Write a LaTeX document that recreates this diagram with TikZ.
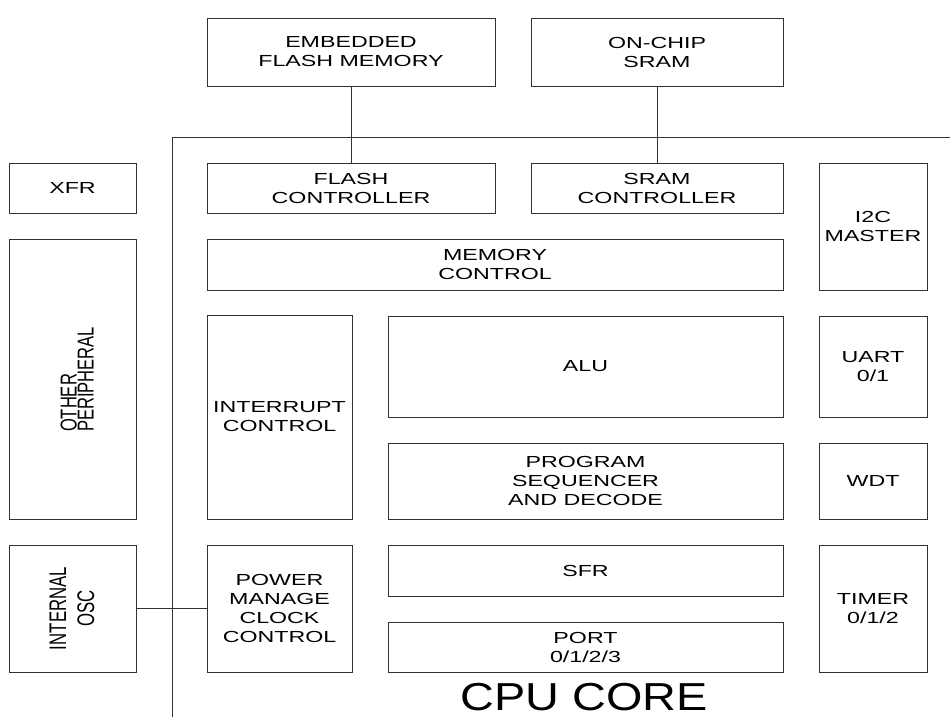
\documentclass[tikz,border=0pt]{standalone}
\usepackage{fontspec}
\setmainfont{Liberation Sans}[FakeStretch=1.45]
\newfontfamily\rotf{Liberation Sans}[FakeStretch=0.72]
\newfontfamily\rotg{Liberation Sans}[FakeStretch=0.70]
\newfontfamily\bigf{Liberation Sans}[FakeStretch=1.2]
\begin{document}
\begin{tikzpicture}[x=1pt,y=-1pt,
  blk/.style={draw=black!80, line width=1pt, rectangle, inner sep=0pt, align=center,
    font=\fontsize{16}{19}\selectfont, text=black},
  conn/.style={draw=black!80, line width=1pt},
  rtxt/.style={rotate=90, inner sep=0pt, text=black}]
\path[use as bounding box] (0,0) rectangle (950,718);
% memories outside the core
\node[blk, minimum width=288pt, minimum height=68pt] (flash) at (351,52) {EMBEDDED\\FLASH MEMORY};
\node[blk, minimum width=252pt, minimum height=68pt] (sram) at (657,52) {ON-CHIP\\SRAM};
% left column
\node[blk, minimum width=127pt, minimum height=50pt] (xfr) at (72.5,188) {XFR};
\node[blk, minimum width=127pt, minimum height=280pt] (oth) at (72.5,379) {};
\node[rtxt, align=left, font=\rotf\fontsize{23}{17}\selectfont] (othT) at (77,379.5) {OTHER\\PERIPHERAL};
\node[blk, minimum width=127pt, minimum height=127pt] (osc) at (72.5,608.5) {};
\node[rtxt, align=center, font=\rotg\fontsize{24}{28}\selectfont] (oscT) at (72,608.5) {INTERNAL\\OSC};
% core
\node[blk, minimum width=288pt, minimum height=50pt] (fctl) at (351,188) {FLASH\\CONTROLLER};
\node[blk, minimum width=252pt, minimum height=50pt] (sctl) at (657,188) {SRAM\\CONTROLLER};
\node[blk, minimum width=108pt, minimum height=127pt] (i2c) at (873,226.5) {I2C\\MASTER};
\node[blk, minimum width=576pt, minimum height=51pt] (mem) at (495,264.5) {MEMORY\\CONTROL};
\node[blk, minimum width=145pt, minimum height=204pt] (intr) at (279.5,417) {INTERRUPT\\CONTROL};
\node[blk, minimum width=395pt, minimum height=101pt] (alu) at (585.5,366.5) {ALU};
\node[blk, minimum width=108pt, minimum height=101pt] (uart) at (873,366.5) {UART\\0/1};
\node[blk, minimum width=395pt, minimum height=76pt] (prog) at (585.5,481) {PROGRAM\\SEQUENCER\\AND DECODE};
\node[blk, minimum width=108pt, minimum height=76pt] (wdt) at (873,481) {WDT};
\node[blk, minimum width=145pt, minimum height=127pt] (pwr) at (279.5,608.5) {POWER\\MANAGE\\CLOCK\\CONTROL};
\node[blk, minimum width=395pt, minimum height=51pt] (sfr) at (585.5,570.5) {SFR};
\node[blk, minimum width=395pt, minimum height=50pt] (port) at (585.5,647) {PORT\\0/1/2/3};
\node[blk, minimum width=108pt, minimum height=127pt] (timer) at (873,608.5) {TIMER\\0/1/2};
\node[inner sep=0pt, font=\bigf\fontsize{39}{39}\selectfont] (core) at (584.5,697.5) {CPU CORE};
% core boundary
\coordinate (cb) at (172,717);
\coordinate (ct) at (172,137);
\coordinate (cr) at (950,137);
\draw[conn] (cb) -- (ct) -- (cr);
% connectors
\draw[conn] (flash.south) -- (fctl.north);
\draw[conn] (sram.south) -- (sctl.north);
\draw[conn] (osc.east) -- (pwr.west);
\end{tikzpicture}
\end{document}
